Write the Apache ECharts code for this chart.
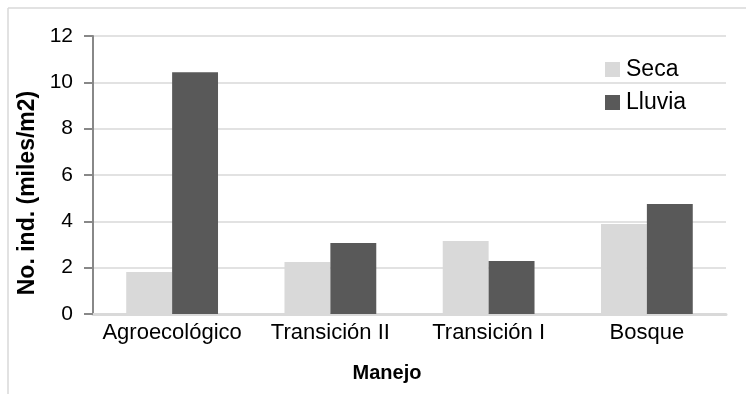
<!DOCTYPE html>
<html>
<head>
<meta charset="utf-8">
<script src="https://cdn.jsdelivr.net/npm/echarts@6/dist/echarts.min.js"></script>
<style>
  html, body { margin: 0; padding: 0; background: #ffffff; }
  #chart { width: 747px; height: 394px; }
</style>
</head>
<body>
<div id="chart"></div>
<script>
// Categories (manejo) and density values per season
const categories = ['Agroecológico', 'Transición II', 'Transición I', 'Bosque'];
const seca = [1.81, 2.24, 3.15, 3.88];
const lluvia = [10.44, 3.06, 2.29, 4.75];
const yTicks = { min: 0, max: 12, interval: 2 };

const FONT = '"Liberation Sans", Arial, Helvetica, sans-serif';

const chart = echarts.init(document.getElementById('chart'), null, { renderer: 'canvas' });

chart.setOption({
  animation: false,
  backgroundColor: '#ffffff',
  textStyle: { fontFamily: FONT },
  grid: { left: 93, right: 21, top: 36, bottom: 80, containLabel: false },
  legend: {
    orient: 'vertical',
    left: 600,
    top: 53,
    itemWidth: 15,
    itemHeight: 15,
    itemGap: 10,
    icon: 'rect',
    textStyle: { fontFamily: FONT, fontSize: 23, color: '#000', lineHeight: 23, padding: [0, 0, 0, 1] },
    data: ['Seca', 'Lluvia']
  },
  xAxis: {
    type: 'category',
    data: categories,
    axisLine: { show: true, lineStyle: { color: '#d9d9d9', width: 3 } },
    axisTick: { show: false },
    axisLabel: { color: '#000', fontFamily: FONT, fontSize: 22, margin: 8, interval: 0 },
    splitLine: { show: false }
  },
  yAxis: {
    type: 'value',
    min: yTicks.min,
    max: yTicks.max,
    interval: yTicks.interval,
    axisLine: { show: true, lineStyle: { color: '#888888', width: 2 } },
    axisTick: { show: true, inside: false, length: 9, lineStyle: { color: '#888888', width: 2 } },
    axisLabel: { color: '#000', fontFamily: FONT, fontSize: 21, margin: 20 },
    splitLine: { show: true, lineStyle: { color: '#d9d9d9', width: 1.5 } }
  },
  series: [
    {
      name: 'Seca',
      type: 'bar',
      data: seca,
      barGap: '0%',
      barCategoryGap: '42%',
      itemStyle: { color: '#d9d9d9' }
    },
    {
      name: 'Lluvia',
      type: 'bar',
      data: lluvia,
      barGap: '0%',
      barCategoryGap: '42%',
      itemStyle: { color: '#595959' }
    }
  ],
  graphic: [
    // chart-area frame (top and left edges)
    { type: 'line', shape: { x1: 8, y1: 8, x2: 746, y2: 8 }, style: { stroke: '#d9d9d9', lineWidth: 1.5 }, silent: true },
    { type: 'line', shape: { x1: 8, y1: 8, x2: 8, y2: 394 }, style: { stroke: '#d9d9d9', lineWidth: 1.5 }, silent: true },
    // axis titles
    {
      type: 'text',
      x: 28, y: 193,
      rotation: Math.PI / 2,
      style: {
        text: 'No. ind. (miles/m2)',
        font: 'bold 23px ' + FONT,
        fill: '#000',
        align: 'center',
        verticalAlign: 'middle'
      },
      silent: true
    },
    {
      type: 'text',
      x: 387, y: 373,
      style: {
        text: 'Manejo',
        font: 'bold 20px ' + FONT,
        fill: '#000',
        align: 'center',
        verticalAlign: 'middle'
      },
      silent: true
    }
  ]
});
</script>
</body>
</html>
